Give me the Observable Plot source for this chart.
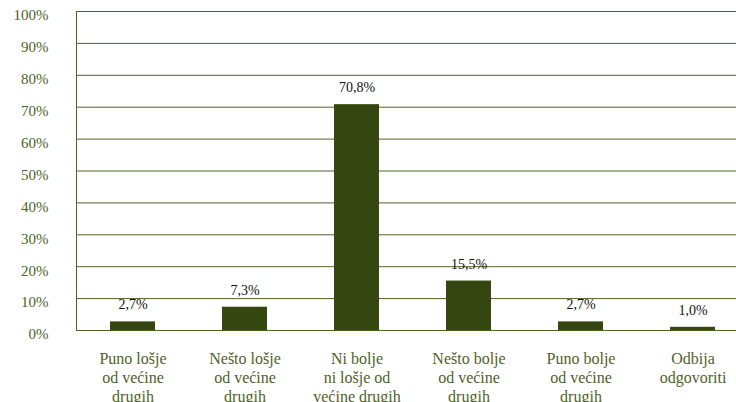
<!DOCTYPE html>
<html>
<head>
<meta charset="utf-8">
<script src="https://cdn.jsdelivr.net/npm/d3@7"></script>
<script src="https://cdn.jsdelivr.net/npm/@observablehq/plot@0.6"></script>
<style>
  html, body { margin: 0; padding: 0; background: #ffffff; }
  #chart svg { display: block; }
  #chart svg text, #chart svg g { font-family: "Times New Roman", Tinos, "Liberation Serif", "DejaVu Serif", "Noto Serif", FreeSerif, serif !important; }
</style>
</head>
<body>
<div id="chart"></div>
<script>
const categories = [
  "Puno lošje\nod većine\ndrugih",
  "Nešto lošje\nod većine\ndrugih",
  "Ni bolje\nni lošje od\nvećine drugih",
  "Nešto bolje\nod većine\ndrugih",
  "Puno bolje\nod većine\ndrugih",
  "Odbija\nodgovoriti"
];
const values = [2.7, 7.3, 70.8, 15.5, 2.7, 1.0];
const yTicks = [0, 10, 20, 30, 40, 50, 60, 70, 80, 90, 100];

const data = categories.map((c, i) => ({category: c, value: values[i]}));
const fmt = v => v.toFixed(1).replace(".", ",") + "%";

const olive = "#4f6228";
const barColor = "#354610";
const font = "'Times New Roman', Tinos, 'Liberation Serif', 'DejaVu Serif', serif";

const chart = Plot.plot({
  width: 736,
  height: 402,
  marginLeft: 76,
  marginRight: 0,
  marginTop: 11,
  marginBottom: 72,
  style: {background: "#ffffff", fontFamily: font},
  x: {domain: categories, range: [76, 748], paddingInner: 0.6, paddingOuter: 0.3},
  y: {domain: [0, 100]},
  marks: [
    Plot.ruleY(yTicks, {stroke: olive, strokeWidth: 1}),
    Plot.frame({anchor: "left", stroke: olive, strokeWidth: 1}),
    Plot.barY(data, {x: "category", y: "value", fill: barColor}),
    Plot.text(data, {x: "category", y: "value", text: d => fmt(d.value), dy: -17, fill: "#111", fontSize: 14, fontFamily: font}),
    Plot.axisY({ticks: yTicks, tickFormat: d => d + "%", tickSize: 0, tickPadding: 28, dy: 4, fill: olive, fontSize: 15, fontFamily: font, label: null}),
    Plot.axisX({tickSize: 0, tickPadding: 20, fill: olive, fontSize: 16, fontFamily: font, lineHeight: 1.19, label: null, textOverflow: null})
  ]
});
document.getElementById("chart").appendChild(chart);
</script>
</body>
</html>
